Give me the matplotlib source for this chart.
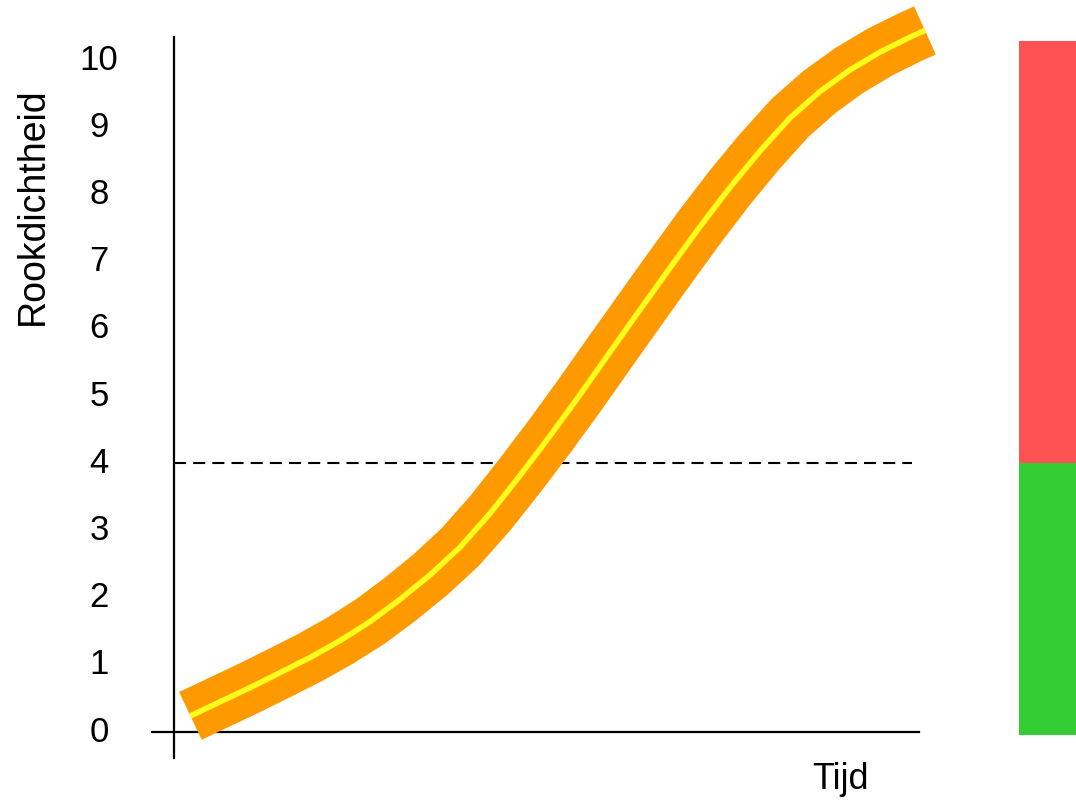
import matplotlib.pyplot as plt

plt.rcParams['font.family'] = ['Liberation Sans', 'DejaVu Sans']

# curve (time in arbitrary units, smoke density 0-10)
tijd = [0.22, 0.62, 1.02, 1.42, 1.83, 2.23, 2.63, 3.03, 3.44, 3.84, 4.24, 4.64,
        5.05, 5.45, 5.85, 6.26, 6.66, 7.06, 7.46, 7.87, 8.27, 8.67, 9.07,
        9.48, 9.88, 10.08]
rook = [0.24, 0.45, 0.66, 0.88, 1.11, 1.36, 1.64, 1.97, 2.34, 2.75, 3.25, 3.81,
        4.41, 5.02, 5.65, 6.29, 6.91, 7.52, 8.10, 8.65, 9.14, 9.53, 9.85,
        10.12, 10.34, 10.44]

drempel = 4            # dashed threshold
zone_top = 10.28       # top of the red zone bar
zone_bottom = -0.04
zone_colors = ['#33cc33', '#ff5252']
yticks = list(range(0, 11))

fig = plt.figure(figsize=(10.76, 8), dpi=100)
ax = fig.add_axes([174 / 1076, 68 / 800, 745 / 1076, 692 / 800])
ax.set_xlim(0, 10)
ax.set_ylim(0, 692 / 67.2)

for s in ax.spines.values():
    s.set_visible(False)

# axis lines, drawn a bit past the origin
ax.plot([0, 0], [-0.39, 10.34], color='black', lw=1.6, clip_on=False)
ax.plot([-0.3, 10.0], [0, 0], color='black', lw=1.6, clip_on=False)

# threshold
ax.plot([0, 9.9], [drempel, drempel], color='black', lw=1.5,
        dashes=(5.8, 3.4), clip_on=False)

# curve: thick orange band with thin yellow centre line
ax.plot(tijd, rook, color='#ff9900', lw=38, solid_capstyle='butt',
        solid_joinstyle='round', clip_on=False)
ax.plot(tijd, rook, color='#ffff1a', lw=4, solid_capstyle='butt',
        solid_joinstyle='round', clip_on=False)

# zone bar on the right
ax.bar(11.34, drempel - zone_bottom, width=1.0, bottom=zone_bottom, align='edge',
       color=zone_colors[0], clip_on=False)
ax.bar(11.34, zone_top - drempel, width=1.0, bottom=drempel, align='edge',
       color=zone_colors[1], clip_on=False)

ax.set_xticks([])
ax.set_yticks(yticks)
ax.set_yticklabels([str(t) for t in yticks], fontsize=25, ha='center',
                   va='center')
ax.tick_params(axis='y', length=0, pad=54)

ax.text(-0.189, 0.76, 'Rookdichtheid', transform=ax.transAxes, rotation=90,
        ha='center', va='center', fontsize=27)
ax.text(0.894, -0.0824, 'Tijd', transform=ax.transAxes,
        ha='center', va='baseline', fontsize=26)

fig.savefig('out.png', dpi=100)
